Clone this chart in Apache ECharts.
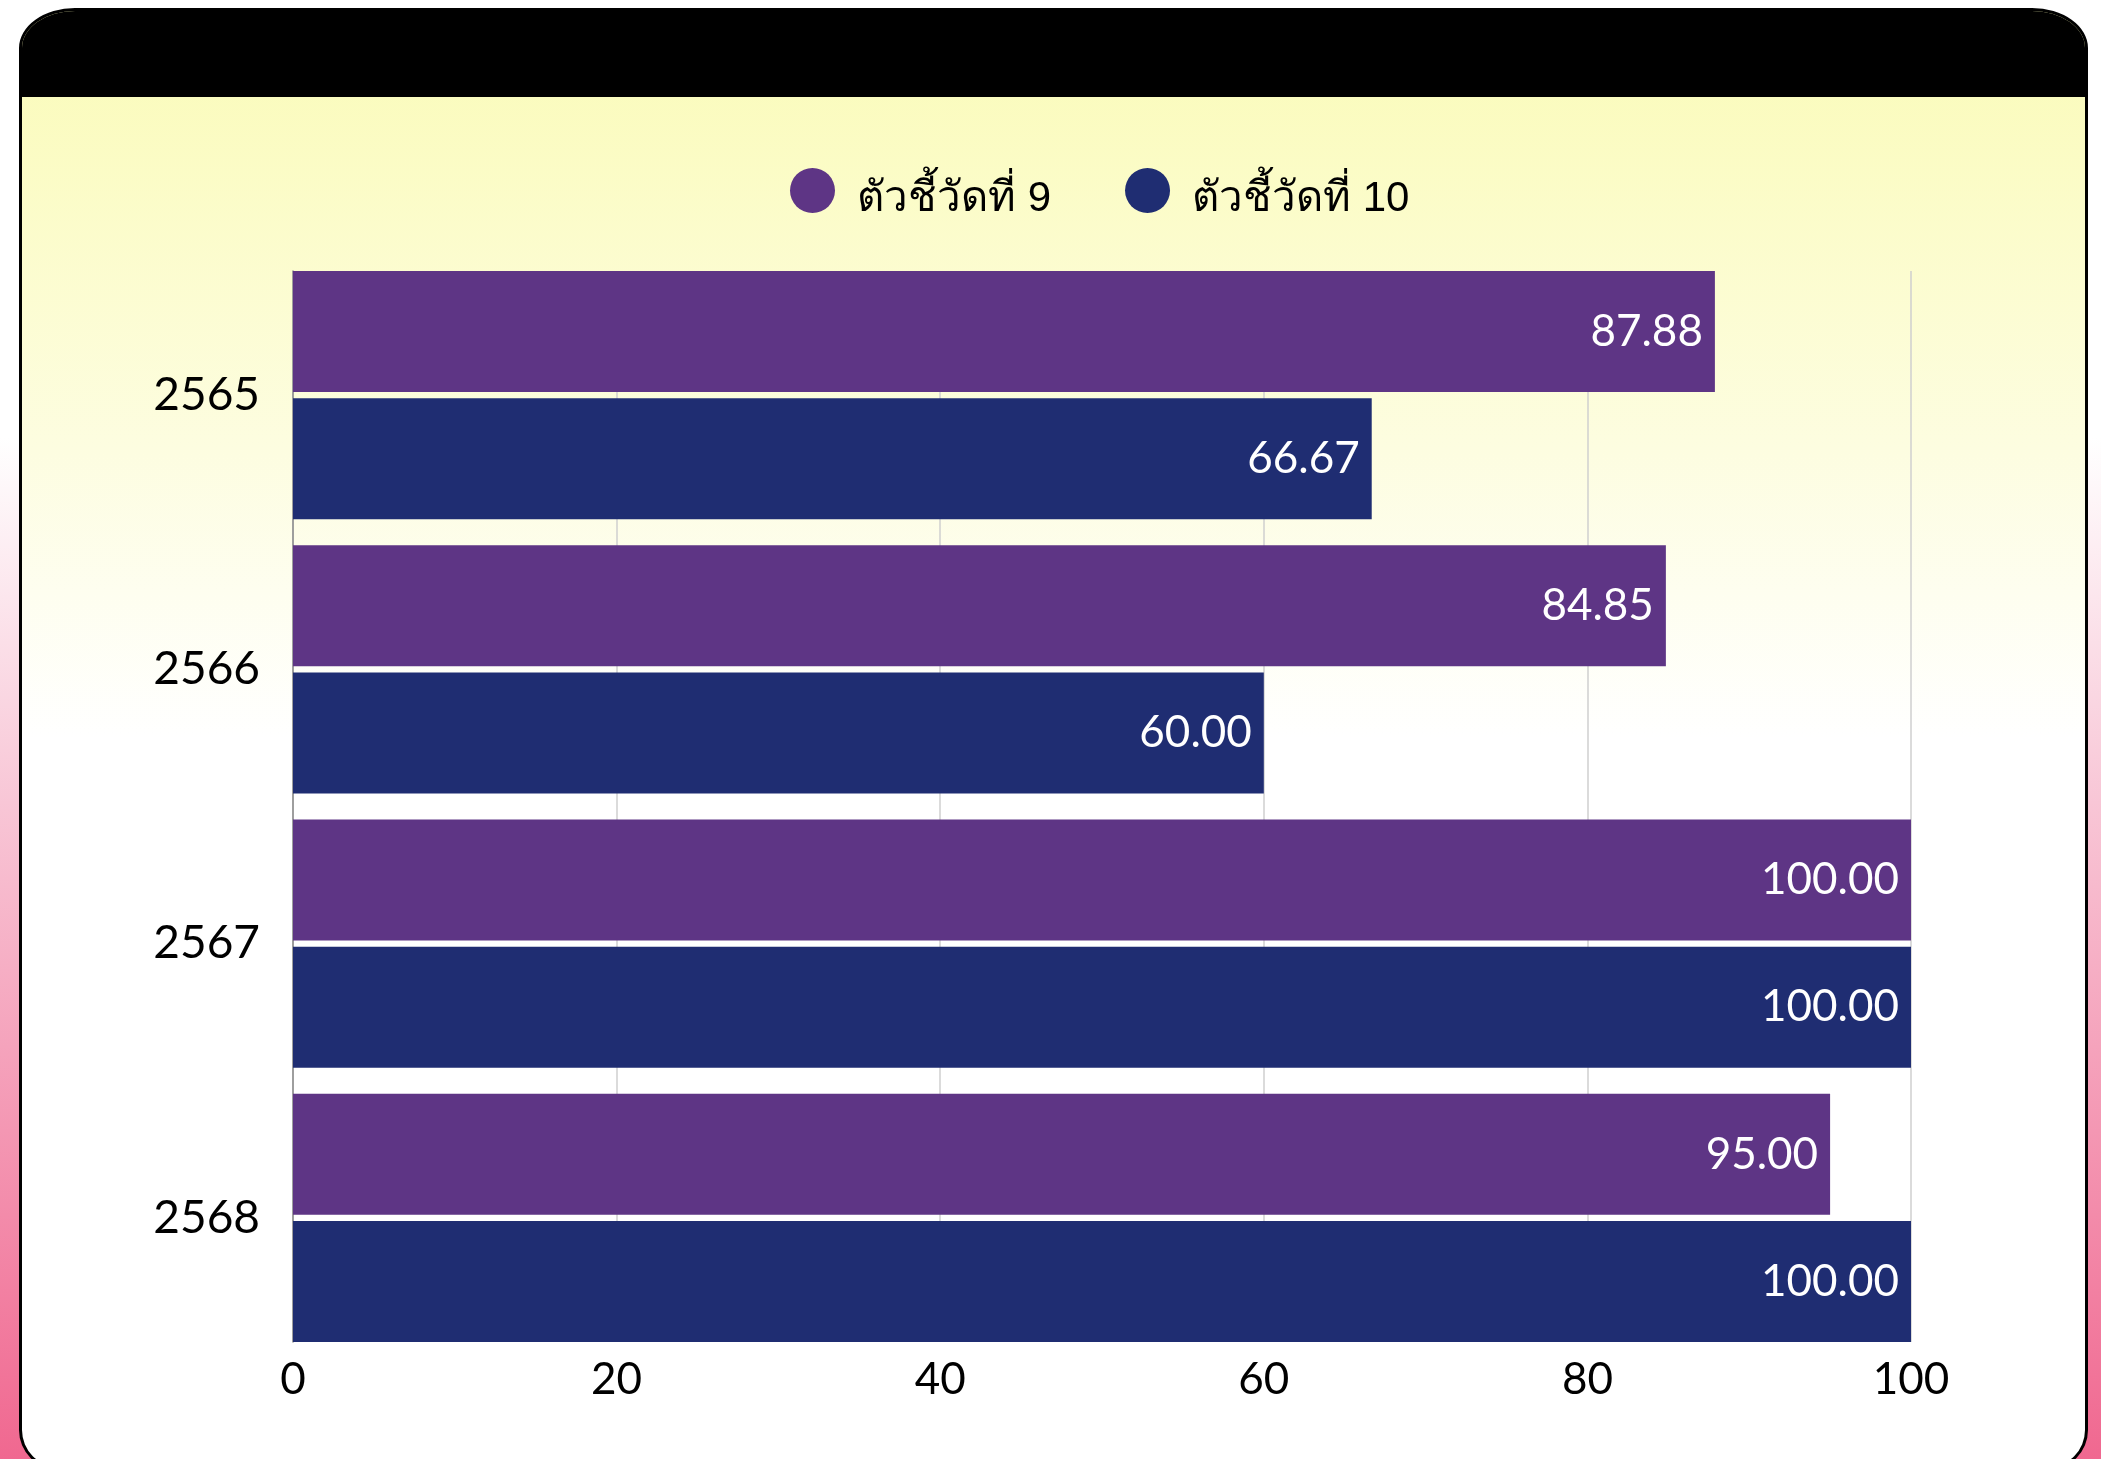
<!DOCTYPE html>
<html>
<head>
<meta charset="utf-8">
<script src="https://cdn.jsdelivr.net/npm/echarts@6/dist/echarts.min.js"></script>
<style>
  html, body { margin:0; padding:0; width:2101px; height:1459px; overflow:hidden; }
  body { background: linear-gradient(to bottom, #ffffff 0%, #ffffff 30%, #f8c6d6 55%, #f06890 100%); position:relative; }
  #card { position:absolute; left:19px; top:8px; width:2063px; height:1456px; border:3px solid #000;
          border-radius: 56px 56px 40px 40px / 40px 40px 40px 40px; overflow:hidden;
          background: linear-gradient(to bottom, #fafbb7 0%, #fdfde0 30%, #ffffff 50%, #ffffff 100%); }
  #head { position:absolute; left:0; top:0; right:0; height:86px; background:#000; }
  #chart { position:absolute; left:0; top:0; width:2101px; height:1459px; }
</style>
</head>
<body>
<div id="card"><div id="head"></div></div>
<div id="chart"></div>
<script>
const categories = ['2565', '2566', '2567', '2568'];
const seriesNames = ['ตัวชี้วัดที่ 9', 'ตัวชี้วัดที่ 10'];
const indicator9 = [87.88, 84.85, 100.00, 95.00];
const indicator10 = [66.67, 60.00, 100.00, 100.00];
const xTicks = [0, 20, 40, 60, 80, 100];

const colors = ['#5e3585', '#1f2d72'];
const numFont = 'Lato, "Noto Sans", sans-serif';
const legendFont = '"Liberation Sans", "Noto Sans", sans-serif';

const chart = echarts.init(document.getElementById('chart'), null, {renderer: 'canvas'});
const labelStyle = {
  show: true, position: 'insideRight', distance: 12, color: '#ffffff',
  fontFamily: numFont, fontSize: 44,
  formatter: p => p.value.toFixed(2)
};
chart.setOption({
  backgroundColor: 'transparent',
  animation: false,
  legend: {
    left: 785, top: 163,
    icon: 'circle', itemWidth: 45, itemHeight: 45, itemGap: 74,
    formatter: '{t|{name}}',
    textStyle: { fontFamily: legendFont, fontSize: 42, color: '#000', padding: [0, 0, 0, 17],
      rich: { t: { fontFamily: legendFont, fontSize: 42, color: '#000', padding: [18, 0, 0, 0] } } },
    data: seriesNames
  },
  grid: [
    { left: 293, right: 190, top: 271, bottom: 117 },
    { left: 293, right: 190, top: 258, bottom: 104 }
  ],
  xAxis: [
    { gridIndex: 0, type: 'value', min: xTicks[0], max: xTicks[xTicks.length - 1], interval: 20,
      axisLine: { show: false }, axisTick: { show: false },
      splitLine: { show: true, lineStyle: { color: '#cfcfcf', width: 1.5 } },
      axisLabel: { fontFamily: numFont, fontSize: 44, color: '#000', margin: 16 } },
    { gridIndex: 1, type: 'value', min: xTicks[0], max: xTicks[xTicks.length - 1], show: false }
  ],
  yAxis: [
    { gridIndex: 0, type: 'category', data: categories, inverse: true,
      axisLine: { show: true, lineStyle: { color: '#8a8a8a', width: 1.5 } },
      axisTick: { show: false }, axisLabel: { show: false }, splitLine: { show: false } },
    { gridIndex: 1, type: 'category', data: categories, inverse: true,
      axisLine: { show: false }, axisTick: { show: false },
      axisLabel: { fontFamily: numFont, fontSize: 46, color: '#000', margin: 33 } }
  ],
  series: [
    { name: seriesNames[0], type: 'bar', xAxisIndex: 1, yAxisIndex: 1, data: indicator9,
      itemStyle: { color: colors[0] }, barCategoryGap: '9.5%', barGap: '5%', label: labelStyle },
    { name: seriesNames[1], type: 'bar', xAxisIndex: 1, yAxisIndex: 1, data: indicator10,
      itemStyle: { color: colors[1] }, barCategoryGap: '9.5%', barGap: '5%', label: labelStyle }
  ]
});
</script>
</body>
</html>
